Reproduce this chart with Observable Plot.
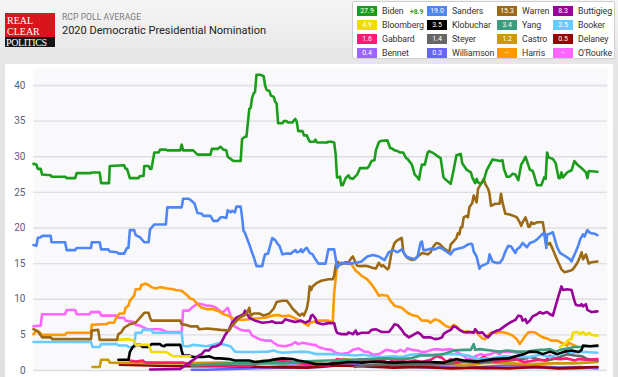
<!DOCTYPE html>
<html>
<head>
<meta charset="utf-8">
<script src="https://cdn.jsdelivr.net/npm/d3@7"></script>
<script src="https://cdn.jsdelivr.net/npm/@observablehq/plot@0.6"></script>
<style>
  html, body { margin: 0; padding: 0; }
  body { width: 618px; height: 377px; overflow: hidden; position: relative;
         background: linear-gradient(#f5f5f5 0px, #e6e6e6 60px, #e0e0e0 377px);
         font-family: Roboto, "Noto Sans", sans-serif; }
  .abs { position: absolute; }
  #logo { left: 5px; top: 13px; width: 50px; height: 34px; background: #d8141c; overflow: hidden; }
  #logo .t { position: absolute; left: 2px; color: #fff; font-family: "Liberation Serif", "DejaVu Serif", serif;
             font-size: 10px; line-height: 9px; height: 9px; letter-spacing: 0px; }
  #logo .band { position: absolute; left: 0; top: 24px; width: 50px; height: 10px; background: #151515; }
  #kicker { left: 62px; top: 12px; font-size: 8.5px; color: #7a7a7a; letter-spacing: 0.1px; }
  #title { left: 62px; top: 24px; font-size: 11px; color: #222; }
  #legend { left: 352px; top: 1px; width: 261px; height: 56px; background: #fff; border: 1px solid #cfcfcf; border-radius: 2px; }
  .box { position: absolute; width: 20px; height: 10px; color: #fff; font-size: 7px; line-height: 10px; text-align: center; }
  .nm { position: absolute; font-size: 8.8px; color: #333; line-height: 10px; white-space: nowrap; letter-spacing: -0.1px; }
  .chg { position: absolute; font-size: 6.8px; color: #2a9a2a; font-weight: bold; line-height: 10px; }
  #panel { left: 5px; top: 64px; width: 608px; height: 313px; background: #fff; }
</style>
</head>
<body>
<div id="logo" class="abs">
  <div class="t" style="top:3px">REAL</div>
  <div class="t" style="top:13.5px">CLEAR</div>
  <div class="band"></div>
  <div class="t" style="top:25px;left:1px;letter-spacing:-0.4px">POLITICS</div>
</div>
<div id="kicker" class="abs">RCP POLL AVERAGE</div>
<div id="title" class="abs">2020 Democratic Presidential Nomination</div>
<div id="legend" class="abs"></div>
<div id="panel" class="abs"></div>
<script>
// ---- Data (x = days since 28 Nov 2018, y = poll average %) ----
const candidates = ["Biden","Sanders","Warren","Buttigieg","Bloomberg","Klobuchar","Yang","Booker","Gabbard","Steyer","Castro","Delaney","Bennet","Williamson","Harris","O'Rourke"];
const latest = ["27.9","19.0","15.3","8.3","4.9","3.5","3.4","2.5","1.6","1.4","1.2","0.5","0.4","0.3","--","--"];
const bidenLead = "+8.9";
const colors = ["#1b9d1b","#4f86f7","#9c6a14","#990099","#f0dc00","#000000","#3a9e7e","#66ccff","#ff1a75","#666666","#cc9900","#990000","#9966ff","#6666ff","#ff9900","#ff66ff"];
const yTicks = [0,5,10,15,20,25,30,35,40];

const biden = [[0,29.0],[2,28.9],[3,28.3],[5,28.3],[6,27.5],[12,27.4],[12.5,27.2],[22,27.2],[23,27.0],[29,27.0],[30,27.7],[40,27.7],[40.5,27.8],[46,27.8],[47,26.3],[52.5,26.3],[53,28.7],[63,28.8],[64,28.3],[65,28.3],[67,27.0],[73,27.0],[74,27.3],[76.5,27.3],[77,28.7],[80,28.7],[81,28.3],[82,28.3],[84,30.6],[87,30.6],[88,31.0],[92,31.0],[93,30.9],[102,30.9],[103,31.7],[104,30.9],[111,30.9],[114,30.3],[123,30.3],[124,31.1],[128,31.1],[130,31.4],[132,31.0],[134,30.9],[135,30.0],[137,29.7],[139,29.4],[144,29.4],[145,32.5],[147,32.8],[148,32.8],[150,36.7],[151,36.9],[152,38.3],[153,38.9],[154,39.1],[155,41.5],[158,41.5],[160,41.3],[161,40.0],[162,39.4],[164,39.2],[165,38.6],[167,38.4],[168,37.7],[169,37.5],[170,34.7],[173,34.7],[174,35.0],[176,35.0],[177,34.8],[180,34.8],[181,35.1],[182,35.3],[183,34.9],[184,33.6],[187,33.6],[188,33.0],[190,33.0],[191,32.5],[192,32.1],[195,32.1],[196,32.4],[197,32.0],[204,32.0],[205,32.1],[207,32.1],[209,32.0],[210,30.4],[211,27.1],[212,27.1],[213,27.2],[214,26.0],[215,26.0],[217,27.0],[219,27.4],[220,27.0],[222,26.9],[225,27.5],[227,28.4],[232,28.4],[233,28.6],[235,29.4],[237,29.5],[238,30.9],[240,32.0],[241,32.2],[246,32.3],[248,31.2],[249,31.2],[251,30.9],[253,30.8],[255,30.6],[257,30.6],[259,29.8],[260,29.7],[263,28.9],[265,27.5],[267,27.1],[268,26.8],[269,28.0],[270,28.9],[272,28.9],[274,30.6],[275,30.8],[278,30.5],[280,30.2],[283,29.8],[285,27.1],[287,26.7],[290,26.2],[292,28.1],[294,30.2],[297,30.4],[298,29.1],[301,28.2],[304,27.8],[305,27.1],[307,26.3],[308,26.9],[309,26.4],[311,26.2],[313,26.7],[315,28.1],[319,29.6],[322,29.5],[324,29.4],[326,29.5],[327,28.3],[329,27.2],[331,27.2],[333,27.6],[335,27.5],[337,26.7],[339,28.9],[340,29.2],[342,30.0],[343,29.4],[345,28.2],[347,28.0],[348,27.4],[350,26.0],[353,26.0],[355,27.1],[356,26.9],[357,30.6],[358,29.9],[361,29.7],[363,29.1],[365,27.0],[366,27.0],[367,27.8],[368,27.1],[371,27.8],[374,28.1],[376,29.4],[378,28.9],[381,28.4],[384,27.8],[385,27.0],[386,28.0],[392,27.9]];
const sanders = [[0,17.6],[2,17.5],[3,18.6],[5,18.7],[6,18.9],[12,18.9],[12.5,18.0],[22,18.0],[23,16.9],[29,16.9],[30,17.2],[40,17.2],[40.5,18.0],[46,18.0],[47,17.0],[52,17.0],[53,16.7],[58,16.6],[59,16.4],[63,16.4],[65,17.2],[66,17.2],[67,19.7],[70,19.7],[71,19.0],[74,18.7],[77,18.0],[80,18.0],[81,19.8],[84,20.5],[92,20.5],[93,22.9],[103,22.9],[104,24.1],[108,24.1],[110,23.8],[112,23.4],[114,22.1],[117,22.0],[118,21.7],[123,21.7],[125,21.0],[128,21.0],[130,21.5],[132,21.5],[134,21.4],[135,22.5],[137,22.2],[138,22.4],[140,22.2],[141,23.0],[144,23.0],[145,21.5],[146,19.6],[147,19.3],[150,17.7],[152,16.5],[153,16.0],[155,14.65],[159,14.65],[160,15.6],[161,16.3],[163,16.4],[165,17.9],[166,18.6],[168,18.3],[170,17.7],[171,17.5],[173,16.3],[175,16.4],[179,16.4],[180,16.6],[182,16.9],[183,16.6],[185,16.7],[186,17.0],[187,16.6],[189,17.1],[190,17.2],[192,16.5],[194,16.3],[196,15.6],[198,15.0],[203,15.0],[205,17.0],[209,17.0],[210,15.8],[211,14.4],[213,14.9],[214,15.1],[219,15.0],[224,15.1],[228,15.3],[232,16.0],[236,16.2],[240,16.0],[244,15.5],[247,16.6],[250,16.9],[253,16.6],[256,17.0],[259,16.0],[262,15.8],[265,15.6],[267,16.0],[269,17.9],[270,18.1],[271,16.9],[273,16.9],[276,17.1],[279,17.0],[282,17.3],[285,17.0],[287,16.7],[290,16.3],[292,16.9],[295,17.1],[299,17.3],[302,17.7],[304,17.8],[305,17.7],[306,16.7],[308,16.0],[310,14.3],[311,14.65],[314,14.9],[316,15.1],[317,16.3],[319,15.3],[322,15.1],[324,15.1],[326,15.6],[328,16.7],[330,17.5],[332,17.4],[335,16.5],[336,17.0],[338,17.3],[340,17.9],[343,17.3],[345,17.9],[348,18.1],[350,18.4],[352,18.8],[354,19.2],[355,19.3],[356.5,17.2],[357,19.1],[359,19.2],[361,19.4],[364,17.3],[366,16.5],[370,16.0],[373,15.6],[374,15.3],[375,15.8],[377,16.7],[379,17.7],[380,18.4],[382,19.1],[383,18.8],[385,19.7],[387,19.3],[390,19.2],[392,19.0]];
const warren = [[0,5.8],[3,5.5],[6,4.65],[12,4.65],[13,4.4],[40,4.4],[40.5,5.6],[45,5.7],[46,4.3],[58,4.3],[59,5.1],[61,5.35],[63,6.0],[67,6.5],[71,6.7],[74,7.4],[77,8.1],[80,8.1],[81,7.4],[82,7.0],[102,7.0],[103,6.5],[106,6.4],[109,6.2],[114,6.2],[115,5.8],[121,5.9],[130,5.7],[136,5.6],[138,6.3],[140,6.7],[143,7.4],[148,7.9],[150,8.8],[151,7.7],[153,8.0],[157,8.0],[160,7.7],[164,8.0],[167,8.7],[169,9.6],[173,9.8],[176,9.8],[178,9.3],[180,8.7],[183,8.1],[185,7.7],[187,8.0],[188,7.7],[190,8.7],[191,9.8],[192,11.8],[193,11.3],[194,11.8],[197,12.3],[200,12.6],[205,12.8],[208,12.8],[209,13.3],[210,14.7],[211,15.3],[212,15.1],[214,14.9],[217,15.2],[219,15.2],[221,15.8],[222,16.0],[224,15.1],[225,14.7],[227,14.65],[231,14.7],[233,14.6],[236,14.4],[238,14.3],[240,15.1],[242,14.6],[243,14.8],[246,14.2],[247,14.4],[249,16.7],[251,17.9],[253,18.3],[256,18.6],[257,16.7],[258,16.3],[260,15.8],[263,15.5],[265,15.6],[267,16.0],[269,16.3],[270,16.5],[274,16.3],[276,16.6],[278,17.4],[280,17.9],[282,17.8],[285,17.2],[287,16.9],[289,16.6],[290,17.7],[292,18.1],[294,18.6],[295,19.3],[296,19.1],[297,20.1],[298,20.1],[299,21.5],[301,21.7],[302,21.5],[303,22.9],[305,23.5],[306,24.55],[307,24.1],[308,23.6],[309,25.5],[311,26.2],[313,26.9],[314,26.2],[316,25.5],[317,24.8],[318,23.1],[321,23.4],[324,23.4],[325,24.8],[326,23.6],[328,22.0],[331,21.9],[335,21.6],[336,21.5],[338,20.8],[339,20.3],[340,20.8],[342,21.5],[343,20.9],[344,20.2],[345,20.2],[346,20.8],[348,20.6],[350,20.8],[354,20.8],[355,19.6],[356,18.1],[358,17.7],[359,17.9],[361,17.0],[363,16.0],[365,15.1],[367,14.2],[369,13.8],[373,14.0],[375,14.2],[378,15.1],[380,16.0],[381,16.6],[382,15.6],[384,16.3],[386,15.0],[388,15.2],[392,15.3]];
const buttigieg = [[81,0.15],[102,0.2],[104,0.5],[107,0.9],[109,1.2],[112,1.6],[115,2.1],[117,2.3],[119,2.8],[122,2.8],[124,3.3],[127,3.4],[130,3.7],[133,4.9],[136,5.8],[138,6.7],[141,7.4],[144,7.7],[146,7.9],[147,8.4],[148,8.1],[150,7.4],[152,7.2],[154,7.0],[159,6.7],[164,6.8],[166,6.9],[168,6.7],[173,6.7],[175,7.2],[178,7.0],[182,6.8],[186,7.0],[189,6.7],[192,7.0],[193,7.7],[194,7.8],[196,7.3],[197,6.7],[201,6.5],[205,6.65],[209,6.65],[210,5.8],[211,5.3],[214,5.1],[218,5.1],[219,5.35],[222,5.1],[224,5.6],[225,5.1],[228,5.3],[233,5.3],[235,5.7],[238,5.8],[240,5.6],[242,5.4],[247,5.4],[249,5.9],[251,6.5],[253,6.4],[256,5.7],[258,5.1],[261,4.65],[264,5.0],[267,5.35],[269,5.1],[271,4.65],[276,4.65],[279,4.4],[282,4.5],[284,4.65],[285,5.1],[287,5.4],[290,5.7],[292,6.2],[294,6.05],[296,5.7],[299,5.4],[301,5.35],[304,5.4],[306,5.3],[307,5.8],[309,5.3],[312,5.35],[314,4.9],[316,4.65],[319,5.3],[322,5.6],[324,5.7],[328,6.3],[331,6.7],[335,7.1],[337,7.7],[339,7.6],[340,7.0],[342,7.2],[343,6.65],[345,7.0],[347,7.6],[350,7.9],[352,8.2],[354,8.0],[357,8.2],[359,7.9],[361,7.7],[363,9.1],[365,10.5],[367,11.8],[368,11.3],[371,11.4],[374,11.3],[376,9.8],[377,9.2],[380,9.1],[381,9.3],[382,9.0],[384,9.3],[385,8.5],[388,8.2],[392,8.3]];
const bloomberg = [[58,4.3],[66,4.4],[70,4.2],[71,3.6],[80,3.6],[82,2.6],[92,2.6],[97,2.0],[109,2.0],[110,null],[366,3.3],[369,3.7],[372,4.3],[374,4.4],[375,5.3],[378,5.4],[380,5.1],[382,5.4],[384,5.0],[386,5.3],[388,5.0],[392,4.9]];
const klobuchar = [[59,1.5],[66,1.5],[67,2.6],[69,3.3],[71,3.6],[74,3.6],[76,3.3],[80,3.3],[81,3.5],[82,3.7],[88,3.7],[89,3.5],[91,3.4],[92,3.6],[102,3.6],[103,2.8],[104,2.1],[108,2.1],[111,1.9],[118,1.9],[122,2.0],[126,1.7],[130,1.7],[136,1.6],[140,1.4],[150,1.4],[154,1.2],[164,1.4],[169,1.6],[173,1.7],[180,1.6],[184,1.4],[190,1.2],[196,0.9],[204,0.9],[210,1.0],[219,1.2],[228,1.1],[238,1.25],[250,1.1],[265,1.2],[275,1.2],[285,1.1],[294,1.6],[299,1.4],[308,1.25],[320,1.6],[330,1.7],[341,2.3],[345,2.65],[350,2.6],[354,2.3],[359,2.65],[364,2.3],[369,2.65],[374,2.8],[379,2.6],[381,2.9],[382,3.5],[387,3.4],[392,3.5]];
const yang = [[110,0.7],[125,0.9],[140,1.0],[160,1.0],[175,1.0],[190,1.3],[205,1.4],[220,1.5],[233,1.6],[245,1.7],[255,1.6],[262,1.7],[269,2.1],[276,2.1],[282,2.2],[285,2.3],[292,2.8],[299,2.9],[304,2.9],[306,3.7],[307,2.9],[310,3.0],[318,2.8],[324,2.65],[329,2.8],[336,2.65],[343,2.65],[352,2.9],[355,2.9],[359,3.0],[363,2.65],[366,2.9],[371,3.1],[376,3.3],[380,3.3],[385,3.4],[392,3.4]];
const booker = [[0,4.0],[40,4.0],[41,3.3],[46,3.3],[47,3.7],[58,3.7],[59,3.5],[65,3.5],[66,3.3],[70,3.3],[71,5.3],[75,5.3],[76,5.7],[82,5.7],[83,5.3],[103,5.3],[104,3.4],[108,3.4],[111,3.6],[120,3.4],[125,3.6],[130,3.9],[131,3.7],[135,3.5],[137,3.4],[140,2.65],[145,2.6],[154,2.6],[163,2.65],[167,2.8],[170,2.6],[173,2.5],[182,2.6],[187,2.65],[191,2.6],[196,2.3],[210,2.3],[214,2.2],[224,2.1],[229,2.2],[236,2.0],[243,1.9],[250,2.0],[256,1.9],[262,2.2],[268,2.3],[276,2.2],[285,2.3],[294,2.3],[302,2.1],[309,1.6],[318,1.7],[327,2.0],[336,1.9],[345,1.9],[352,2.2],[359,1.9],[366,2.3],[371,2.65],[375,2.5],[378,2.6],[383,2.6],[392,2.5]];
const gabbard = [[67,1.4],[71,1.25],[76,1.4],[77,1.2],[80,1.1],[104,1.1],[107,0.9],[112,0.7],[130,0.7],[150,0.6],[160,1.2],[166,1.5],[175,1.3],[190,0.9],[205,0.7],[211,1.6],[216,1.4],[222,1.2],[227,1.6],[232,1.25],[238,1.2],[242,1.4],[247,1.1],[251,1.6],[256,1.4],[260,1.2],[265,1.4],[270,1.2],[276,1.5],[280,2.0],[284,1.8],[287,1.2],[290,1.6],[294,1.2],[299,1.4],[308,1.4],[313,1.9],[317,1.6],[321,1.2],[327,1.4],[335,1.6],[341,1.2],[345,1.3],[351,1.5],[356,1.4],[359,2.1],[361,1.7],[366,1.6],[371,1.7],[376,1.4],[379,1.6],[384,1.5],[392,1.6]];
const steyer = [[223,0.5],[230,0.7],[245,0.8],[262,0.8],[276,0.9],[290,1.0],[299,1.2],[310,1.1],[320,1.3],[331,1.4],[340,1.6],[345,1.9],[352,1.5],[357,1.4],[363,1.7],[366,1.9],[371,2.3],[376,2.1],[381,2.0],[385,1.6],[392,1.4]];
const castro = [[41,0.5],[46,0.5],[47,1.5],[52,1.5],[53,1.1],[100,1.0],[130,1.1],[150,1.0],[160,1.4],[175,1.2],[190,1.0],[205,0.9],[211,1.2],[215,1.6],[230,1.3],[245,1.1],[262,1.1],[280,0.9],[300,0.7],[315,1.1],[330,1.0],[345,0.9],[360,1.0],[375,1.0],[385,1.1],[392,1.2]];
const delaney = [[60,0.8],[80,0.7],[100,0.6],[130,0.6],[160,0.5],[190,0.4],[211,0.7],[230,0.6],[250,0.4],[270,0.5],[290,0.3],[310,0.4],[330,0.3],[350,0.5],[365,0.3],[380,0.4],[392,0.5]];
const bennet = [[155,0.4],[165,0.5],[180,0.7],[200,0.6],[215,0.8],[235,0.5],[255,0.6],[275,0.4],[295,0.5],[315,0.3],[335,0.5],[355,0.4],[375,0.3],[392,0.4]];
const williamson = [[110,0.1],[120,0.1],[150,0.3],[175,0.4],[200,0.5],[215,0.9],[230,0.7],[250,0.6],[270,0.8],[290,0.6],[310,0.5],[330,0.7],[350,0.6],[365,0.4],[380,0.5],[392,0.3]];
const harris = [[0,5.1],[2,5.6],[4,5.4],[6,5.0],[22,5.0],[23,5.3],[40,5.3],[40.5,6.4],[47,6.5],[51,6.5],[52,6.7],[56,6.7],[57,7.2],[58,7.6],[60,8.0],[63,8.0],[64,8.8],[66,9.1],[67,9.8],[70,10.5],[71,11.4],[74,11.4],[75,12.0],[78,12.2],[80,12.0],[82,11.7],[85,11.5],[88,11.7],[93,11.5],[97,11.4],[99,11.3],[103,11.2],[106,10.7],[109,10.1],[111,10.0],[114,9.3],[117,8.8],[121,8.6],[125,8.6],[130,8.2],[131,8.0],[135,7.7],[140,7.2],[145,7.1],[150,7.2],[154,7.3],[161,7.4],[166,7.7],[170,7.8],[173,7.6],[178,7.7],[182,7.3],[187,6.8],[191,6.3],[192,6.65],[194,6.8],[198,7.0],[205,7.0],[208,6.7],[209,10.9],[211,14.65],[212,15.1],[216,15.0],[219,15.0],[221,14.9],[224,14.0],[226,13.7],[228,13.3],[232,12.8],[235,12.1],[238,11.2],[240,10.5],[242,10.6],[246,10.5],[248,9.8],[251,9.1],[256,8.8],[260,8.1],[263,7.8],[267,7.6],[270,7.0],[274,7.0],[276,6.7],[279,7.2],[282,7.0],[285,6.5],[287,6.2],[290,6.05],[292,6.4],[294,6.2],[297,5.6],[299,5.4],[302,5.5],[304,5.3],[306,5.45],[308,5.35],[310,4.9],[312,4.5],[314,4.4],[315,4.8],[318,5.3],[322,5.3],[324,5.4],[328,5.3],[331,5.1],[333,4.9],[336,4.4],[338,3.7],[340,4.3],[342,4.9],[344,5.35],[347,5.4],[349,5.3],[352,4.9],[354,4.65],[357,4.5],[360,4.2],[364,4.2],[366,4.0],[369,3.7],[371,3.5],[372,3.9],[374,3.7],[378,3.3]];
const orourke = [[0,6.2],[5,6.3],[6,7.9],[22,7.9],[23,8.5],[29,8.5],[30,7.9],[39,7.9],[40,8.2],[46,8.2],[47,7.7],[58,7.7],[59,7.4],[63,7.4],[64,7.0],[70,6.8],[71,6.4],[74,6.3],[79,5.8],[88,5.8],[93,5.4],[103,5.4],[104,8.4],[108,8.4],[110,8.8],[114,9.4],[117,9.3],[121,9.1],[125,9.0],[127,8.8],[130,8.3],[131,8.1],[133,8.4],[135,8.8],[137,7.7],[139,6.3],[143,5.8],[146,5.6],[150,5.6],[152,4.9],[157,4.4],[161,4.2],[165,4.2],[167,3.9],[170,3.5],[175,3.4],[179,3.6],[182,4.0],[184,3.7],[187,3.9],[194,3.6],[196,3.6],[198,3.3],[203,3.0],[207,2.9],[210,2.5],[214,2.3],[219,2.5],[222,2.9],[226,3.1],[230,2.65],[233,2.6],[236,2.2],[240,2.3],[242,2.5],[245,2.9],[248,2.8],[252,2.6],[255,2.9],[258,2.65],[260,3.1],[263,2.9],[267,2.8],[270,2.6],[273,2.65],[277,2.9],[280,3.0],[285,2.9],[290,3.0],[293,2.8],[295,2.5],[300,1.9],[302,1.6],[305,1.7],[307,2.0],[311,2.3],[313,2.1],[318,2.3],[321,2.6],[324,2.3],[326,2.65],[331,2.6],[333,2.6],[336,2.5],[341,1.9],[343,1.6]];

const seriesByName = {
  "Biden": biden, "Sanders": sanders, "Warren": warren, "Buttigieg": buttigieg,
  "Bloomberg": bloomberg, "Klobuchar": klobuchar, "Yang": yang, "Booker": booker,
  "Gabbard": gabbard, "Steyer": steyer, "Castro": castro, "Delaney": delaney,
  "Bennet": bennet, "Williamson": williamson, "Harris": harris, "O'Rourke": orourke
};

// ---- Legend ----
const legend = document.getElementById("legend");
const colX = [4, 74, 144, 200];
const rowY = [4, 18, 32, 46];
candidates.forEach((name, i) => {
  const r = Math.floor(i / 4), c = i % 4;
  const b = document.createElement("div");
  b.className = "box";
  b.style.left = colX[c] + "px";
  b.style.top = rowY[r] + "px";
  b.style.background = colors[i];
  b.textContent = latest[i];
  legend.appendChild(b);
  const n = document.createElement("div");
  n.className = "nm";
  n.style.left = (colX[c] + 25) + "px";
  n.style.top = rowY[r] + "px";
  n.textContent = name;
  legend.appendChild(n);
  if (i === 0) {
    const ch = document.createElement("div");
    ch.className = "chg";
    ch.style.left = (colX[c] + 53) + "px";
    ch.style.top = (rowY[r] + 0.5) + "px";
    ch.textContent = bidenLead;
    legend.appendChild(ch);
  }
});

// ---- Chart ----
const rows = [];
candidates.slice().reverse().forEach(name => {
  for (const [d, v] of seriesByName[name]) rows.push({name, d, v});
});

const chart = Plot.plot({
  width: 608,
  height: 313,
  marginLeft: 28,
  marginRight: 6,
  marginTop: 21,
  marginBottom: 7,
  style: {background: "transparent", fontFamily: "Roboto, sans-serif"},
  x: {domain: [0, 399], axis: null},
  y: {domain: [0, 40], axis: null},
  color: {domain: candidates, range: colors},
  marks: [
    Plot.frame({fill: "#f9f9fc", stroke: "none", insetTop: -17}),
    Plot.gridY(yTicks, {stroke: "#dedee2", strokeOpacity: 1, strokeWidth: 1.3}),
    Plot.axisY(yTicks, {tickSize: 0, tickPadding: 8, label: null, fontSize: 10, fill: "#5a6070"}),
    Plot.line(rows, {x: "d", y: "v", z: "name", stroke: "name", strokeWidth: 2.6, strokeLinejoin: "round", strokeLinecap: "round"})
  ]
});
document.getElementById("panel").appendChild(chart);
</script>
</body>
</html>
